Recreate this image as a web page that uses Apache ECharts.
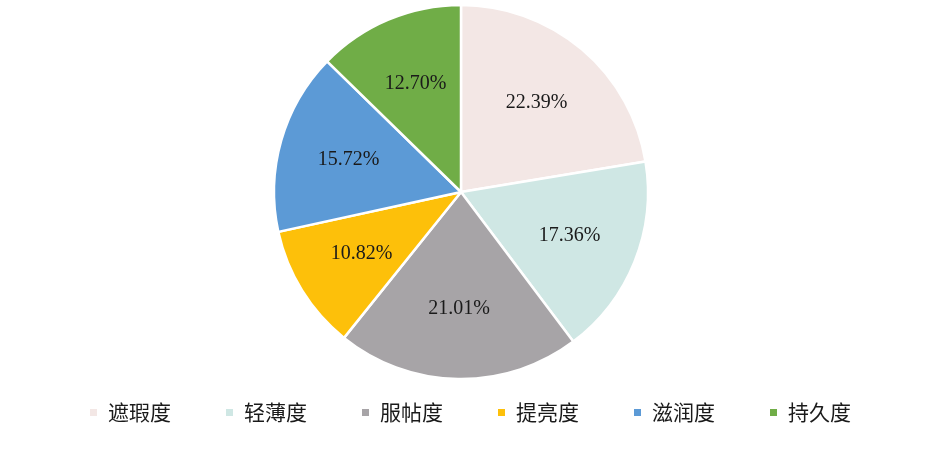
<!DOCTYPE html>
<html>
<head>
<meta charset="utf-8">
<script src="https://cdn.jsdelivr.net/npm/echarts@6/dist/echarts.min.js"></script>
<style>
html,body{margin:0;padding:0;background:#fff;}
#c{width:952px;height:455px;}
</style>
</head>
<body>
<div id="c"></div>
<script>
const categories = ['遮瑕度', '轻薄度', '服帖度', '提亮度', '滋润度', '持久度'];
const values = [22.39, 17.36, 21.01, 10.82, 15.72, 12.70];
const colors = ['#F3E7E5', '#CFE7E4', '#A7A4A7', '#FDC00A', '#5C9AD6', '#70AD47'];

const data = categories.map((n, i) => ({ name: n, value: values[i] }));

const chart = echarts.init(document.getElementById('c'));
chart.setOption({
  animation: false,
  color: colors,
  legend: {
    data: categories,
    left: 83,
    top: 397,
    icon: 'rect',
    itemWidth: 9,
    itemHeight: 9,
    itemGap: 53,
    textStyle: { fontSize: 21, color: '#1a1a1a', fontFamily: 'Noto Sans CJK SC', padding: [0, 0, 0, 5] }
  },
  series: [
    {
      type: 'pie',
      center: [461, 192],
      radius: [0, 187],
      startAngle: 90,
      clockwise: true,
      data: data,
      itemStyle: { borderColor: '#fff', borderWidth: 2.5 },
      label: { show: false },
      labelLine: { show: false }
    },
    {
      type: 'pie',
      silent: true,
      center: [461, 192],
      radius: [0, 228],
      startAngle: 90,
      clockwise: true,
      data: data,
      itemStyle: { color: 'rgba(0,0,0,0)' },
      label: {
        show: true,
        position: 'inside',
        formatter: p => p.value.toFixed(2) + '%',
        fontSize: 20,
        fontFamily: 'Liberation Serif',
        color: '#1a1a1a'
      },
      labelLine: { show: false }
    }
  ]
});
</script>
</body>
</html>
